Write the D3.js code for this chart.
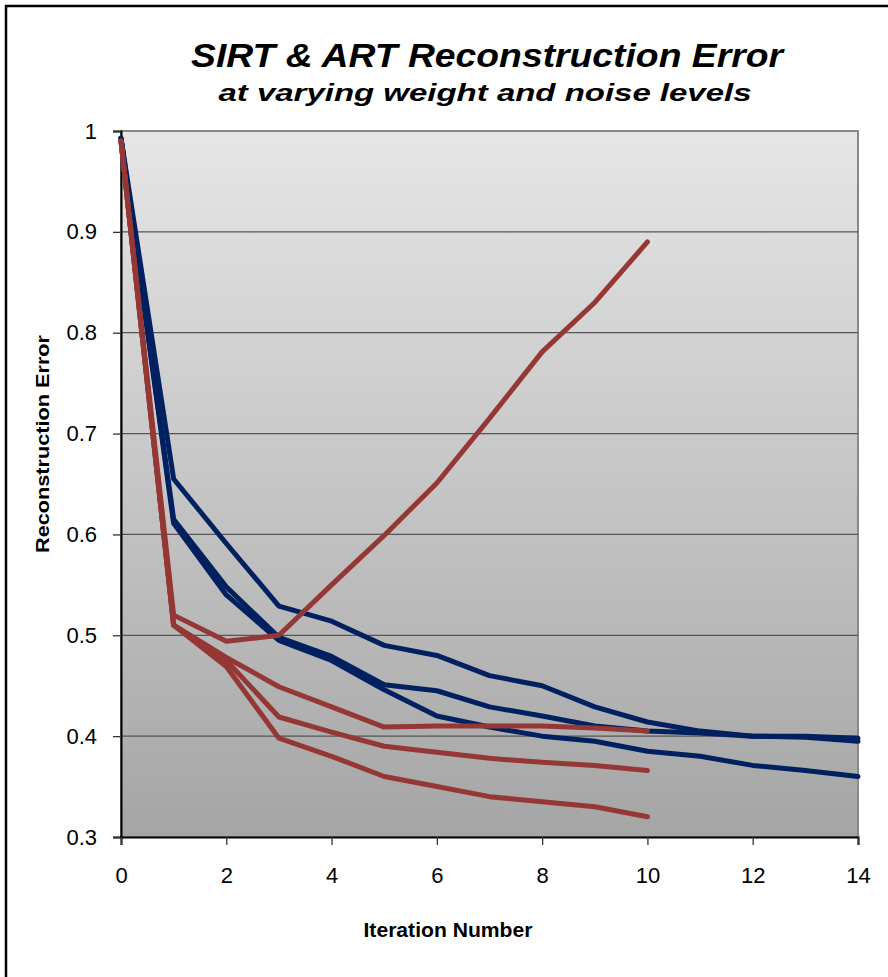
<!DOCTYPE html>
<html>
<head>
<meta charset="utf-8">
<script src="https://cdn.jsdelivr.net/npm/d3@7"></script>
<style>
  body { margin: 0; background: #fff; }
  svg { display: block; font-family: "Liberation Sans", Arial, sans-serif; }
</style>
</head>
<body>
<div id="chart"></div>
<script>
// iterations and series values
const sirtIters = [0,1,2,3,4,5,6,7,8,9,10,11,12,13,14];
const artIters = [0,1,2,3,4,5,6,7,8,9,10];

const sirtA = [0.993,0.655,0.591,0.529,0.514,0.490,0.480,0.460,0.450,0.429,0.414,0.405,0.400,0.400,0.398];
const sirtB = [0.993,0.615,0.548,0.498,0.479,0.451,0.445,0.429,0.420,0.410,0.405,0.403,0.400,0.399,0.395];
const sirtC = [0.993,0.611,0.540,0.495,0.475,0.446,0.420,0.409,0.400,0.395,0.385,0.380,0.371,0.366,0.360];

const artD = [0.990,0.520,0.494,0.500,0.550,0.599,0.651,0.715,0.781,0.830,0.890];
const artE = [0.990,0.510,0.478,0.449,0.429,0.409,0.410,0.410,0.410,0.408,0.405];
const artF = [0.990,0.510,0.475,0.419,0.404,0.390,0.384,0.378,0.374,0.371,0.366];
const artG = [0.990,0.510,0.469,0.398,0.380,0.360,0.350,0.340,0.335,0.330,0.320];

const xTicks = [0,2,4,6,8,10,12,14];
const yTicks = [0.3,0.4,0.5,0.6,0.7,0.8,0.9,1];

const W = 888, H = 977;
const margin = { top: 131, right: 30, bottom: 140, left: 121 };
const width = 858 - margin.left;
const height = 837 - margin.top;

const svg = d3.select('#chart').append('svg')
    .attr('width', W)
    .attr('height', H);

// outer chart frame (runs off the right and bottom)
svg.append('rect')
    .attr('x', 6).attr('y', 6)
    .attr('width', 900).attr('height', 1000)
    .attr('fill', '#fff')
    .attr('stroke', '#000')
    .attr('stroke-width', 2.5);

const defs = svg.append('defs');
const grad = defs.append('linearGradient')
    .attr('id', 'bg').attr('x1', 0).attr('y1', 0).attr('x2', 0).attr('y2', 1);
grad.append('stop').attr('offset', '0%').attr('stop-color', '#e6e6e6');
grad.append('stop').attr('offset', '100%').attr('stop-color', '#a5a5a5');

const g = svg.append('g')
    .attr('transform', `translate(${margin.left}, ${margin.top})`);

const x = d3.scaleLinear().domain([0, 14]).range([0, width]);
const y = d3.scaleLinear().domain([0.3, 1]).range([height, 0]);

g.append('rect')
    .attr('width', width).attr('height', height)
    .attr('fill', 'url(#bg)')
    .attr('stroke', '#888')
    .attr('stroke-width', 2);

// gridlines
g.selectAll('.grid')
    .data(yTicks.filter(d => d > 0.3 && d < 1))
    .enter().append('line')
    .attr('x1', 0).attr('x2', width)
    .attr('y1', d => y(d)).attr('y2', d => y(d))
    .attr('stroke', '#555')
    .attr('stroke-width', 1.3);

const yAxis = d3.axisLeft(y)
    .tickValues(yTicks)
    .tickFormat(d => d === 1 ? '1' : d3.format('.1f')(d))
    .tickSize(8)
    .tickPadding(16);
const yg = g.append('g').call(yAxis);
yg.select('.domain').attr('stroke', '#000').attr('stroke-width', 2);
yg.selectAll('.tick line').attr('stroke', '#333').attr('stroke-width', 1.3);
yg.selectAll('text').attr('font-size', 22).attr('fill', '#000');

const xAxis = d3.axisBottom(x)
    .tickValues(xTicks)
    .tickSize(8)
    .tickPadding(22);
const xg = g.append('g')
    .attr('transform', `translate(0, ${height})`)
    .call(xAxis);
xg.select('.domain').attr('stroke', '#000').attr('stroke-width', 2);
xg.selectAll('.tick line').attr('stroke', '#333').attr('stroke-width', 1.3);
xg.selectAll('text').attr('font-size', 22).attr('fill', '#000');

const line = d3.line()
    .x(d => x(d[0]))
    .y(d => y(d[1]));

const series = [
    { iters: sirtIters, vals: sirtA, color: '#002060' },
    { iters: sirtIters, vals: sirtB, color: '#002060' },
    { iters: sirtIters, vals: sirtC, color: '#002060' },
    { iters: artIters, vals: artD, color: '#953735' },
    { iters: artIters, vals: artE, color: '#953735' },
    { iters: artIters, vals: artF, color: '#953735' },
    { iters: artIters, vals: artG, color: '#953735' }
];

g.selectAll('.series')
    .data(series)
    .enter().append('path')
    .attr('d', s => line(s.iters.map((it, i) => [it, s.vals[i]])))
    .attr('fill', 'none')
    .attr('stroke', s => s.color)
    .attr('stroke-width', 5)
    .attr('stroke-linejoin', 'round')
    .attr('stroke-linecap', 'round');

// titles
svg.append('text')
    .attr('x', 487).attr('y', 67)
    .attr('text-anchor', 'middle')
    .attr('font-size', 33)
    .attr('font-weight', 'bold')
    .attr('font-style', 'italic')
    .attr('textLength', 592)
    .attr('lengthAdjust', 'spacingAndGlyphs')
    .text('SIRT & ART Reconstruction Error');

svg.append('text')
    .attr('x', 485).attr('y', 101)
    .attr('text-anchor', 'middle')
    .attr('font-size', 24)
    .attr('font-weight', 'bold')
    .attr('font-style', 'italic')
    .attr('textLength', 533)
    .attr('lengthAdjust', 'spacingAndGlyphs')
    .text('at varying weight and noise levels');

svg.append('text')
    .attr('x', 448).attr('y', 937)
    .attr('text-anchor', 'middle')
    .attr('font-size', 21)
    .attr('font-weight', 'bold')
    .attr('textLength', 169)
    .attr('lengthAdjust', 'spacingAndGlyphs')
    .text('Iteration Number');

svg.append('text')
    .attr('transform', 'translate(49, 444) rotate(-90)')
    .attr('text-anchor', 'middle')
    .attr('font-size', 19)
    .attr('font-weight', 'bold')
    .attr('textLength', 218)
    .attr('lengthAdjust', 'spacingAndGlyphs')
    .text('Reconstruction Error');
</script>
</body>
</html>
